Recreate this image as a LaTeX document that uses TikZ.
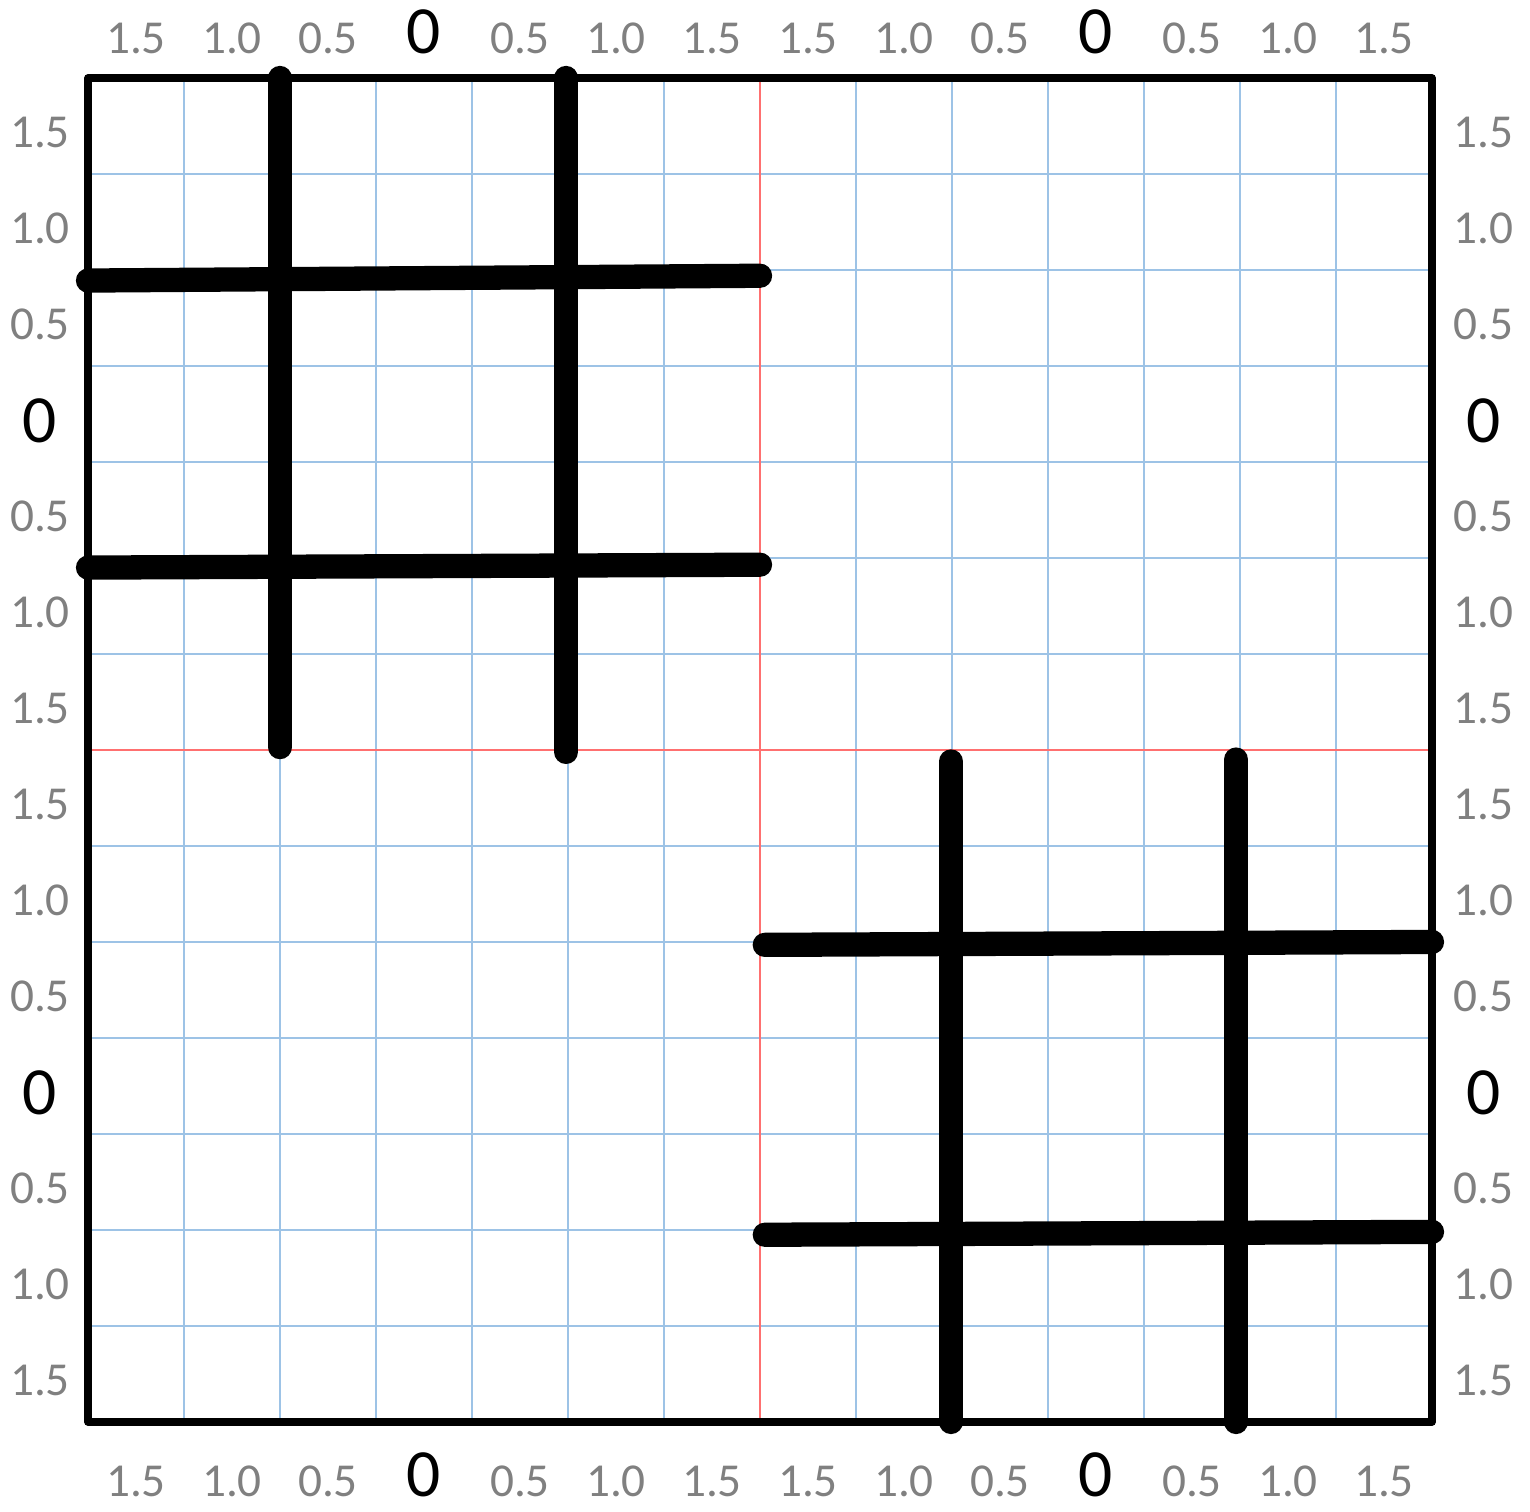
\documentclass[tikz,border=0pt]{standalone}
\usepackage{xcolor}
\usepackage{fontspec}
\setmainfont{Carlito}
\usepackage{tikz}
\definecolor{gridblue}{HTML}{9DC3E6}
\definecolor{midred}{HTML}{FF7070}
\definecolor{labgray}{HTML}{808080}
\newcommand\axlab[1]{\ifdim#1pt=0pt\fontsize{20}{20}\selectfont\color{black}0\else#1\fi}

\begin{document}
\begin{tikzpicture}[
  gridline/.style={draw=gridblue, line width=0.7pt},
  midline/.style={draw=midred, line width=0.7pt},
  frameline/.style={draw=black, line width=2.2pt, line join=round},
  board/.style={draw=black, line width=7.2pt, line cap=round},
  numlab/.style={text=labgray, font=\fontsize{14}{14}\selectfont, inner sep=0pt}
]
\useasboundingbox (-0.917,-0.9375) rectangle (15.021,14.8125);
% grid
\foreach \k in {1,2,3,4,5,6,8,9,10,11,12,13} {
  \draw[gridline] (\k,0) -- (\k,14);
  \draw[gridline] (0,\k) -- (14,\k);
}
\draw[midline] (7,0) -- (7,14);
\draw[midline] (0,7) -- (14,7);
\draw[frameline] (0,0) rectangle (14,14);
% axis labels
\foreach \v [count=\i] in {1.5,1.0,0.5,0,0.5,1.0,1.5,1.5,1.0,0.5,0,0.5,1.0,1.5} {
  \node[numlab, anchor=base] (top\i) at (\i-0.5,14.255) {\axlab{\v}};
  \node[numlab, anchor=base] (bot\i) at (\i-0.5,-0.78) {\axlab{\v}};
  \node[numlab] (left\i) at (-0.5,14.43-\i) {\axlab{\v}};
  \node[numlab] (right\i) at (14.54,14.43-\i) {\axlab{\v}};
}
% upper left board
\draw[board] (2,14) -- (2,7.03);
\draw[board] (4.98,14) -- (4.98,6.98);
\draw[board] (0,11.89) -- (7,11.94);
\draw[board] (0,8.9) -- (7,8.93);
% lower right board
\draw[board] (8.99,6.88) -- (8.99,0);
\draw[board] (11.96,6.9) -- (11.96,0);
\draw[board] (7.05,4.97) -- (14,5);
\draw[board] (7.05,1.95) -- (14,1.98);
\end{tikzpicture}
\end{document}
